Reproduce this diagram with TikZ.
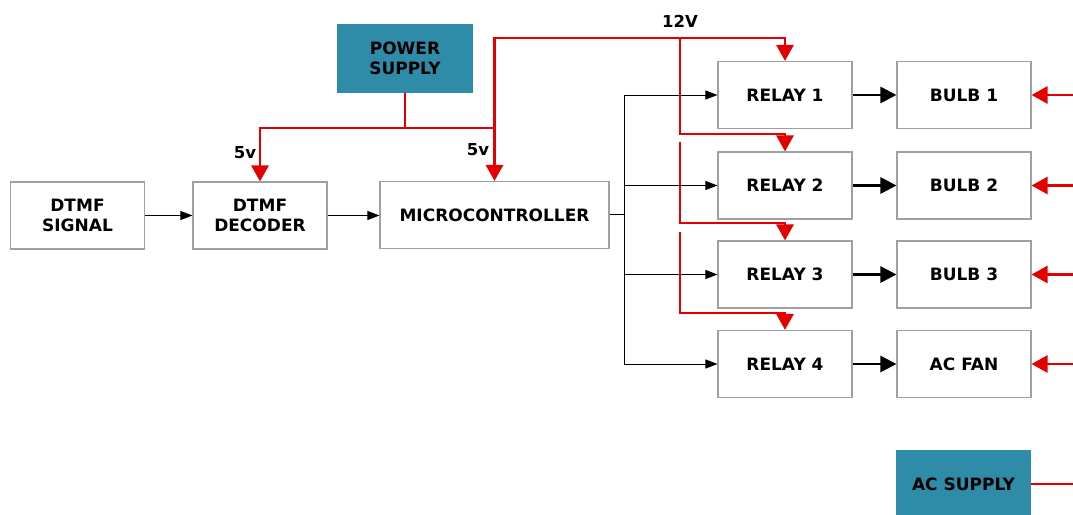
\documentclass[tikz,border=0pt]{standalone}
\usepackage{fontspec}
\setmainfont{DejaVu Sans}
\usetikzlibrary{arrows.meta}
\definecolor{tealbox}{RGB}{46,140,168}
\definecolor{wire}{RGB}{228,0,0}
\definecolor{frame}{RGB}{160,160,160}
\begin{document}
\begin{tikzpicture}[x=1pt,y=-1pt,
  box/.style={draw=frame, line width=1.1pt, minimum width=134pt, minimum height=67pt,
    font=\bfseries\fontsize{17}{20}\selectfont, align=center, inner sep=0pt},
  tealnode/.style={box, fill=tealbox, draw=tealbox},
  sigline/.style={line width=0.9pt, -{Triangle[length=12pt,width=9pt]}},
  boldarrow/.style={line width=2.8pt, -{Triangle[length=16pt,width=16pt]}},
  pw/.style={wire, line width=2.8pt, -{Triangle[length=16pt,width=17pt]}},
  pwline/.style={wire, line width=2.8pt},
  lbl/.style={font=\bfseries\fontsize{16.5}{18}\selectfont, inner sep=0pt}
]
\useasboundingbox (0,0) rectangle (1073,514);
\clip (0,0) rectangle (1073,514);

% blocks
\node[box] (sig) at (77.5,215.5) {DTMF\\SIGNAL};
\node[box] (dec) at (260,215.5) {DTMF\\DECODER};
\node[box, minimum width=229pt] (mcu) at (494.5,215) {MICROCONTROLLER};
\node[tealnode] (ps) at (405,58.5) {POWER\\SUPPLY};
\node[box] (r1) at (785,95) {RELAY 1};
\node[box] (r2) at (785,185.5) {RELAY 2};
\node[box] (r3) at (785,274.5) {RELAY 3};
\node[box] (r4) at (785,364) {RELAY 4};
\node[box] (b1) at (964,95) {BULB 1};
\node[box] (b2) at (964,185.5) {BULB 2};
\node[box] (b3) at (964,274.5) {BULB 3};
\node[box] (b4) at (964,364) {AC FAN};
\node[tealnode] (ac) at (963.5,484) {AC SUPPLY};

% labels
\node[lbl] (l12) at (680,21) {12V};
\node[lbl] (l5a) at (245,153) {5v};
\node[lbl] (l5b) at (478,150) {5v};

% signal path
\draw[sigline] (sig.east) -- (sig.east -| dec.west);
\draw[sigline] (dec.east) -- (dec.east -| mcu.west);
\coordinate (bus) at (624,214);
\draw[line width=0.9pt] (mcu.east |- bus) -- (bus);
\draw[line width=0.9pt] (bus |- r1) -- (bus |- r4);
\foreach \r in {r1,r2,r3,r4}{
  \draw[sigline] (bus |- \r) -- (\r.west);
}
\draw[boldarrow] (r1.east) -- (b1.west);
\draw[boldarrow] (r2.east) -- (b2.west);
\draw[boldarrow] (r3.east) -- (b3.west);
\draw[boldarrow] (r4.east) -- (b4.west);

% power wiring
\coordinate (j) at (405,128);
\coordinate (k) at (494.5,128);
\coordinate (t) at (680,38);
\draw[pwline] (ps.south) -- (j);
\draw[pw] (j) -| (dec.north);
\draw[pw] (j) -| (mcu.north);
\draw[pw] (k) |- (t) -| (r1.north);
\coordinate (s2) at (680,134);
\coordinate (u3) at (680,142);
\coordinate (s3) at (680,223);
\coordinate (u4) at (680,232);
\coordinate (s4) at (680,313);
\draw[pw] (t) -- (s2) -| (r2.north);
\draw[pw] (u3) -- (s3) -| (r3.north);
\draw[pw] (u4) -- (s4) -| (r4.north);

% AC mains side
\coordinate (e) at (1076,0);
\draw[pw] (e |- b1) -- (b1.east);
\draw[pw] (e |- b2) -- (b2.east);
\draw[pw] (e |- b3) -- (b3.east);
\draw[pw] (e |- b4) -- (b4.east);
\draw[pwline] (ac.east) -- (e |- ac);
\end{tikzpicture}
\end{document}
